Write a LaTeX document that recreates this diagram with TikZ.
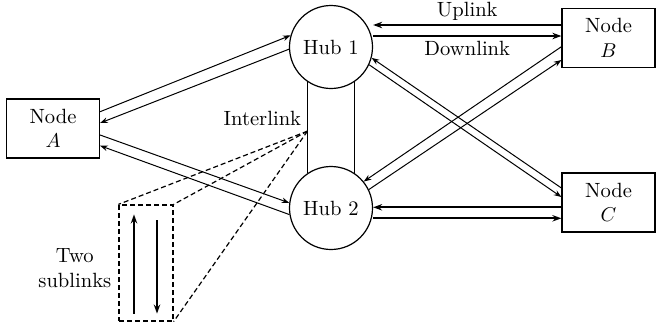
\documentclass[tikz,border=0pt]{standalone}
\usetikzlibrary{arrows.meta,positioning,calc}
\begin{document}
\begin{tikzpicture}[x=0.5pt,y=0.5pt,
    every node/.style={font=\fontsize{10.3}{12.2}\selectfont},
    box/.style={draw,line width=0.6pt,minimum width=46.5pt,minimum height=29.5pt,align=center,inner sep=0pt},
    hub/.style={draw,circle,line width=0.6pt,minimum size=41.5pt,inner sep=0pt},
    link/.style={line width=0.5pt,-{Stealth[length=3.8pt,width=2.8pt]}},
    biglink/.style={line width=1pt,-{Stealth[length=4.5pt,width=3.2pt]}},
    zoomline/.style={line width=0.6pt,dash pattern=on 2.5pt off 1.5pt}]
  \useasboundingbox (0,0) rectangle (656,328);
  \node[box] (A) at (53,199.5) {Node\\$A$};
  \node[box] (B) at (608.5,290) {Node\\$B$};
  \node[box] (C) at (608.5,125.5) {Node\\$C$};
  \node[hub] (hub1) at (331,281) {Hub 1};
  \node[hub] (hub2) at (331,120) {Hub 2};
  \draw[line width=0.6pt] (hub1.236) -- (hub2.124);
  \draw[line width=0.6pt] (hub1.304) -- (hub2.56);
  \coordinate (tap) at ($(hub1.236)!0.54!(hub2.124)$);
  \node[anchor=base east,inner sep=1pt] (interlabel) at ($(tap)+(-4,6)$) {Interlink};
  \node[draw,zoomline,minimum width=27pt,minimum height=58pt,inner sep=0pt] (zoombox) at (146,65) {};
  \draw[zoomline] (tap) -- (zoombox.north west);
  \draw[zoomline] (tap) -- (zoombox.north east);
  \draw[zoomline] (tap) -- (zoombox.south east);
  \draw[biglink] ([xshift=-6pt,yshift=4pt]zoombox.south) -- ([xshift=-6pt,yshift=-5pt]zoombox.north);
  \draw[biglink] ([xshift=5.5pt,yshift=-8pt]zoombox.north) -- ([xshift=5.5pt,yshift=4pt]zoombox.south);
  \node[left=0pt of zoombox,yshift=-2.5pt,align=center] (sublabel) {Two\\sublinks};
  \draw[biglink] ([yshift=6.5pt]B.west) -- ([yshift=6.5pt]B.west -| hub1.east)
    node[midway,above,inner sep=2pt] (uplabel) {Uplink};
  \draw[biglink] ([yshift=1pt]B.west -| hub1.east) -- ([yshift=1pt]B.west)
    node[midway,below,inner sep=2pt] (downlabel) {Downlink};
  \draw[biglink] ([yshift=-2.4pt]C.west) -- ([yshift=-2.4pt]C.west -| hub2.east);
  \draw[biglink] ([yshift=-7.9pt]C.west -| hub2.east) -- ([yshift=-7.9pt]C.west);
  \draw[link] ([yshift=8.4pt]A.east) -- (hub1.164);
  \draw[link] (hub1.183) -- ([yshift=2.75pt]A.east);
  \draw[link] ([yshift=-3.25pt]A.east) -- (hub2.173);
  \draw[link] (hub2.189) -- ([yshift=-8.6pt]A.east);
  \draw[link] ([yshift=7.25pt]C.west) -- (hub1.345);
  \draw[link] (hub1.335) -- ([yshift=2.75pt]C.west);
  \draw[link] ([yshift=-4.35pt]B.west) -- (hub2.39);
  \draw[link] (hub2.26) -- ([yshift=-11pt]B.west);
\end{tikzpicture}
\end{document}
